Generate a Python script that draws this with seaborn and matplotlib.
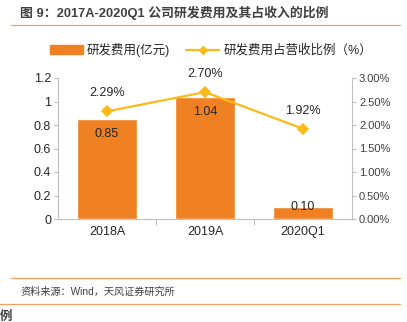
import matplotlib
matplotlib.use("Agg")
import matplotlib.pyplot as plt
import seaborn as sns
import pandas as pd
from matplotlib.patches import Patch
from matplotlib.lines import Line2D
from matplotlib.ticker import FuncFormatter

categories = ["2018A", "2019A", "2020Q1"]
rd_expense = [0.85, 1.04, 0.10]          # 亿元
rd_ratio = [2.29, 2.70, 1.92]            # %
bar_label = "研发费用(亿元)"
line_label = "研发费用占营收比例（%）"
title = "图 9：2017A-2020Q1 公司研发费用及其占收入的比例"
source = "资料来源：Wind，天风证券研究所"

sns.set_style("white")
plt.rcParams['font.family'] = ['Liberation Sans', 'Noto Sans CJK SC', 'DejaVu Sans']

BAR = "#F08122"
LINE = "#FBBA1A"
RULE = "#F5A15C"
TXT = "#262626"
GRID = "#BFBFBF"

df = pd.DataFrame({"cat": categories, "val": rd_expense, "ratio": rd_ratio})

fig = plt.figure(figsize=(4.07, 3.22), dpi=100)
ax = fig.add_axes([58/407, 1-219/322, (352-58)/407, (219-78)/322])

sns.barplot(data=df, x="cat", y="val", color=BAR, saturation=1, width=0.62, ax=ax)
ax.set_ylim(0, 1.2)
ax.set_xlim(-0.5, 2.5)
ax.set_yticks([0, 0.2, 0.4, 0.6, 0.8, 1.0, 1.2])
ax.yaxis.set_major_formatter(FuncFormatter(lambda v, p: "0" if v == 0 else ("1" if abs(v-1) < 1e-9 else f"{v:.1f}")))
ax.set_xlabel("")
ax.set_ylabel("")

ax2 = ax.twinx()
sns.pointplot(data=df, x="cat", y="ratio", color=LINE, markers="D", markersize=5,
              linewidth=1.6, ax=ax2)
ax2.set_ylim(0, 3.0)
ax2.set_xlim(-0.5, 2.5)
ax2.set_yticks([0, 0.5, 1.0, 1.5, 2.0, 2.5, 3.0])
ax2.yaxis.set_major_formatter(FuncFormatter(lambda v, p: f"{v:.2f}%"))
ax2.set_ylabel("")
ax2.set_xlabel("")

for a in (ax, ax2):
    for s in a.spines.values():
        s.set_color(GRID)
        s.set_linewidth(0.8)
    a.spines['top'].set_visible(False)

ax.spines['right'].set_visible(False)
ax2.spines['left'].set_visible(False)
ax2.spines['bottom'].set_visible(False)

ax.tick_params(axis='y', which='both', left=True, length=3, color=GRID, labelsize=9, labelcolor=TXT, pad=2)
ax2.tick_params(axis='y', which='both', right=True, length=3, color=GRID, labelsize=8, labelcolor="#404040", pad=2)
ax.set_xticks([0, 1, 2])
ax.set_xticklabels(categories, fontsize=9, color=TXT)
ax.tick_params(axis='x', length=0, pad=5)
ax.set_xticks([0.5, 1.5], minor=True)
ax.tick_params(axis='x', which='minor', bottom=True, length=4, color=GRID, width=0.8)

# bar labels
for i, v in enumerate(rd_expense):
    off = -15 if v > 0.3 else 0
    ax.annotate(f"{v:.2f}", xy=(i, v), xytext=(0, off), textcoords="offset pixels",
                ha="center", va="center", fontsize=9, color=TXT)

# line labels
for i, v in enumerate(rd_ratio):
    ax2.annotate(f"{v:.2f}%", xy=(i, v), xytext=(0, 18), textcoords="offset pixels",
                 ha="center", va="center", fontsize=9, color=TXT)

# title
fig.text(20/407, 1-13/322, title, fontsize=9.3, fontweight="bold", color="#404040",
         ha="left", va="center")
fig.add_artist(Line2D([11/407, 400/407], [1-25/322, 1-25/322], color=RULE, lw=0.9))

# legend
handles = [Patch(facecolor=BAR, edgecolor=BAR),
           Line2D([0], [0], color=LINE, lw=1.6, marker="D", markersize=4)]
fig.legend(handles, [bar_label, line_label], loc="center", bbox_to_anchor=(211/407, 1-50/322),
           ncol=2, frameon=False, fontsize=9, handlelength=2.6, handleheight=0.7,
           columnspacing=1.3, handletextpad=0.35, labelcolor=TXT)

# bottom rules and source
fig.add_artist(Line2D([11/407, 400/407], [1-278/322, 1-278/322], color=RULE, lw=0.9))
fig.text(20/407, 1-292/322, source, fontsize=7.3, color="#404040", ha="left", va="center")
fig.add_artist(Line2D([0, 400/407], [1-304/322, 1-304/322], color=RULE, lw=0.9))
fig.text(0/407, 1-317/322, "例", fontsize=9, fontweight="bold", color="#404040", ha="left", va="center")

fig.savefig("out.png", dpi=100)
